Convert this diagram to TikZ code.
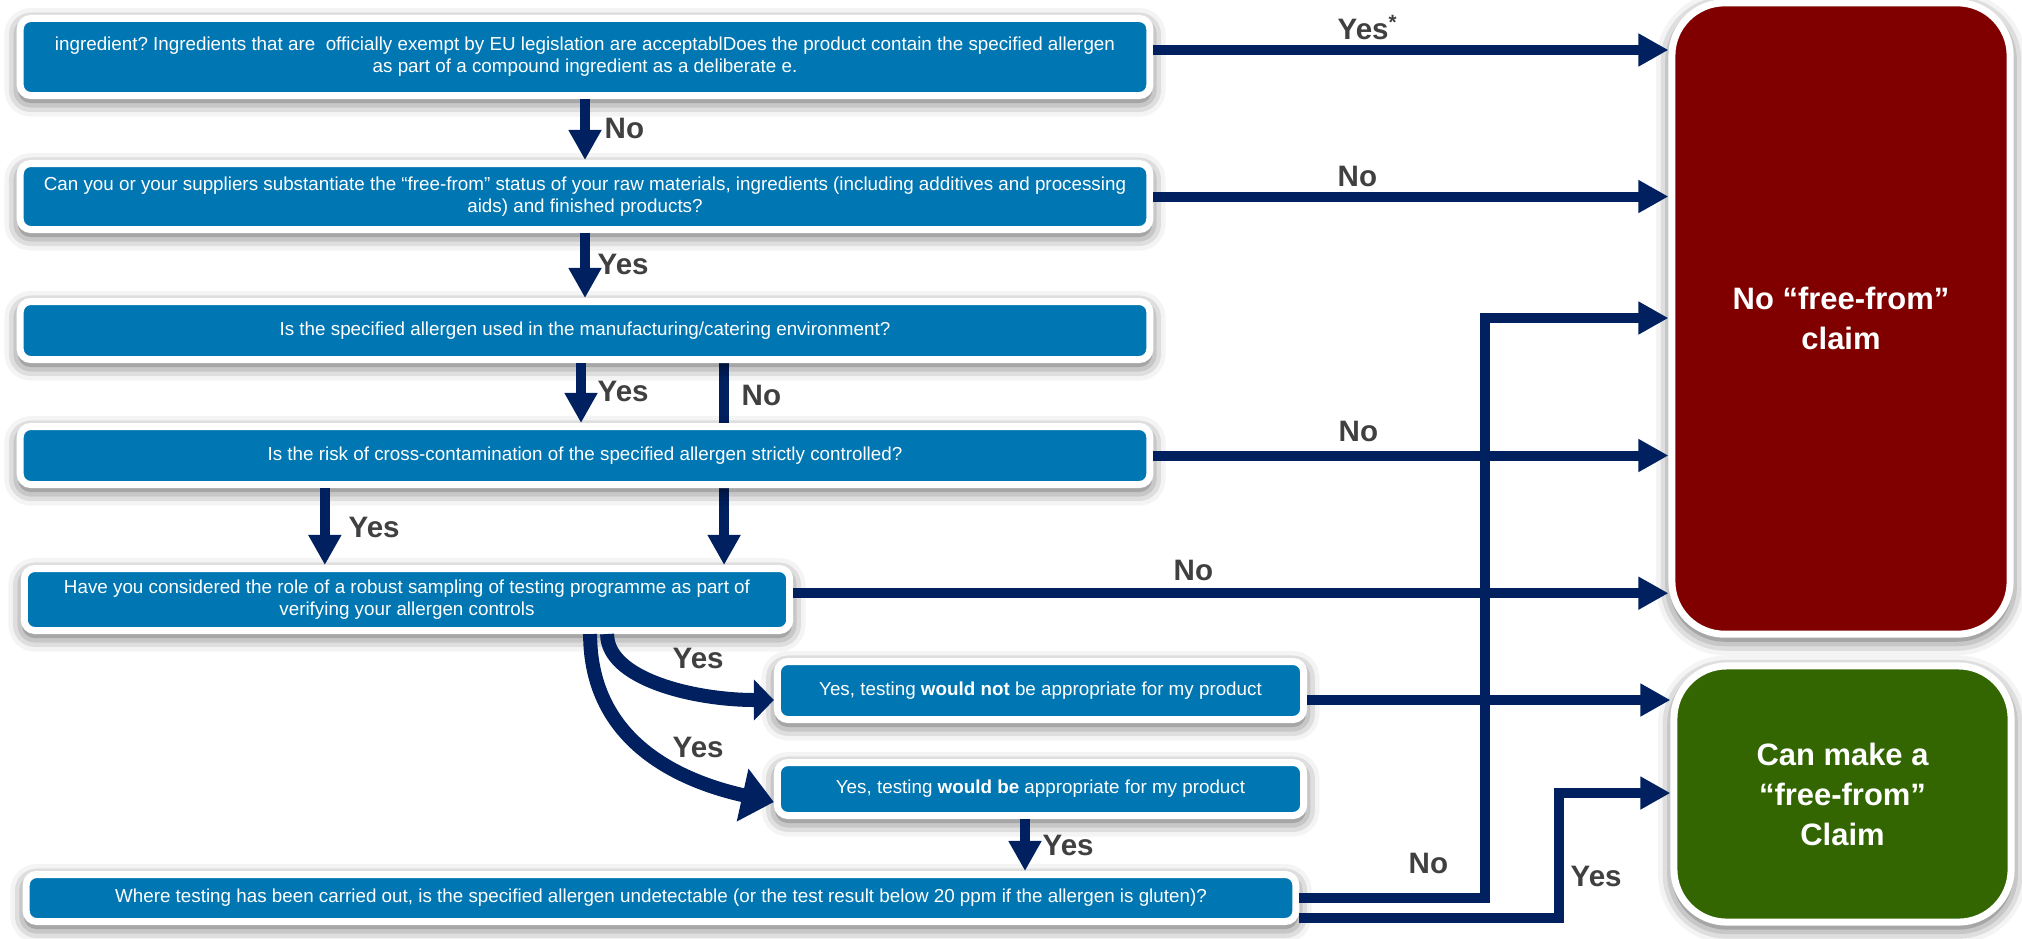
\documentclass[tikz,border=0pt]{standalone}
\usepackage{fontspec}
\setmainfont{Liberation Sans}
\usetikzlibrary{arrows.meta,shadows.blur,backgrounds}
\definecolor{boxblue}{RGB}{0,118,178}
\definecolor{navy}{RGB}{0,32,96}
\definecolor{noclaim}{RGB}{128,0,0}
\definecolor{yesclaim}{RGB}{51,102,0}
\definecolor{lblgray}{RGB}{64,64,64}
\frenchspacing
\tikzset{
  qbox/.style={draw=white, line width=0.07cm, fill=boxblue, rounded corners=3pt,
    text=white, align=center, inner sep=0pt, font=\fontsize{5.35}{6.3}\selectfont,
    blur shadow={shadow xshift=0pt, shadow yshift=-1.5pt, shadow blur radius=4.5pt, shadow opacity=70}},
  endbox/.style={qbox, rounded corners=15pt, font=\fontsize{8.8}{11.4}\selectfont\bfseries},
  flow/.style={draw=navy, line width=0.1cm, -{Triangle[length=0.3cm,width=0.31cm]}},
  bigflow/.style={draw=navy, line width=0.14cm},
  lbl/.style={text=lblgray, font=\fontsize{8.4}{10}\selectfont\bfseries, inner sep=0pt, anchor=base west},
}
\newcommand{\lbl}[3]{\node[lbl] (#1) at (#2) {#3};}

\begin{document}
\begin{tikzpicture}[x=0.01cm,y=-0.01cm]
  \useasboundingbox (0,0) rectangle (2022,938);

  % questions
  \node[qbox, minimum width=11.29cm, minimum height=0.77cm] (q1) at (585,57)
    {ingredient? Ingredients that are~ officially exempt by EU legislation are acceptablDoes the product contain the specified allergen\\
     as part of a compound ingredient as a deliberate e.};
  \node[qbox, minimum width=11.29cm, minimum height=0.66cm] (q2) at (585,196.5)
    {Can you or your suppliers substantiate the “free-from” status of your raw materials, ingredients (including additives and processing\\
     aids) and finished products?};
  \node[qbox, minimum width=11.29cm, minimum height=0.58cm] (q3) at (585,330.5)
    {Is the specified allergen used in the manufacturing/catering environment?};
  \node[qbox, minimum width=11.29cm, minimum height=0.58cm] (q4) at (585,455.5)
    {Is the risk of cross-contamination of the specified allergen strictly controlled?};
  \node[qbox, minimum width=7.65cm, minimum height=0.62cm] (q5) at (407,599.5)
    {Have you considered the role of a robust sampling of testing programme as part of\\
     verifying your allergen controls};
  \node[qbox, minimum width=5.26cm, minimum height=0.58cm] (q6) at (1040.5,690.5)
    {Yes, testing \textbf{would not} be appropriate for my product};
  \node[qbox, minimum width=5.26cm, minimum height=0.53cm] (q7) at (1040.5,789)
    {Yes, testing \textbf{would be} appropriate for my product};
  \node[qbox, minimum width=12.69cm, minimum height=0.47cm] (q8) at (661,898)
    {Where testing has been carried out, is the specified allergen undetectable (or the test result below 20 ppm if the allergen is gluten)?};

  % outcomes
  \node[endbox, fill=noclaim, minimum width=3.38cm, minimum height=6.31cm] (noclm) at (1841,318.5)
    {No “free-from”\\claim};
  \node[endbox, fill=yesclaim, minimum width=3.37cm, minimum height=2.56cm] (yesclm) at (1842.5,794)
    {Can make a\\“free-from”\\Claim};

  % line behind q4
  \begin{pgfonlayer}{background}
    \draw[flow] ([xshift=1.39cm]q3.south) -- ([xshift=1.39cm]q3.south |- q5.north);
  \end{pgfonlayer}

  % down
  \draw[flow] (q1.south) -- (q2.north);
  \draw[flow] (q2.south) -- (q3.north);
  \draw[flow] ([xshift=-0.04cm]q3.south) -- ([xshift=-0.04cm]q3.south |- q4.north);
  \draw[flow] ([xshift=-2.6cm]q4.south) -- ([xshift=-2.6cm]q4.south |- q5.north);
  \draw[flow] ([xshift=-0.155cm]q7.south) -- ([xshift=-0.155cm]q7.south |- q8.north);

  % curved
  \draw[bigflow, -{Triangle[length=0.2cm,width=0.4cm]}] ([xshift=2cm]q5.south)
    .. controls +(0,45) and +(-80,0) .. ([yshift=-0.095cm]q6.west);
  \draw[bigflow, -{Triangle[length=0.32cm,width=0.52cm]}] ([xshift=1.83cm]q5.south)
    .. controls +(0,110) and +(-90,-20) .. ([yshift=-0.13cm]q7.west);

  % right
  \draw[flow] ([yshift=2pt]q1.east) -- ([yshift=2pt]q1.east -| noclm.west);
  \draw[flow] (q2.east) -- (q2.east -| noclm.west);
  \draw[flow] (q4.east) -- (q4.east -| noclm.west);
  \draw[flow] ([yshift=1.8pt]q5.east) -- ([yshift=1.8pt]q5.east -| noclm.west);
  \draw[flow] ([yshift=-2.7pt]q6.east) -- ([yshift=-2.7pt]q6.east -| yesclm.west);
  \coordinate (nobend) at (1485,318);
  \coordinate (yesbend) at (1559,793);
  \draw[flow] (q8.east) -| (nobend) -- (nobend -| noclm.west);
  \draw[flow] ([yshift=-0.2cm]q8.east) -| (yesbend) -- (yesbend -| yesclm.west);

  % labels
  \lbl{l1}{1337,39}{Yes\textsuperscript{*}}
  \lbl{l2}{604,138}{No}
  \lbl{l3}{1337,186}{No}
  \lbl{l4}{597,274}{Yes}
  \lbl{l5}{597,401}{Yes}
  \lbl{l6}{741,405}{No}
  \lbl{l7}{1338,441}{No}
  \lbl{l8}{348,537}{Yes}
  \lbl{l9}{1173,580}{No}
  \lbl{l10}{672,668}{Yes}
  \lbl{l11}{672,757}{Yes}
  \lbl{l12}{1042,855}{Yes}
  \lbl{l13}{1408,873}{No}
  \lbl{l14}{1570,886}{Yes}
\end{tikzpicture}
\end{document}
